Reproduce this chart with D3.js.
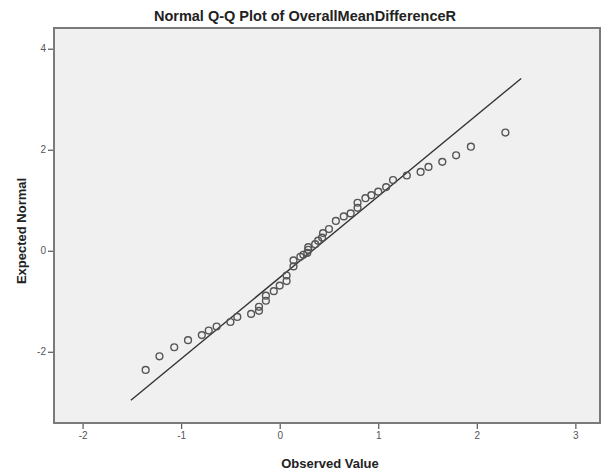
<!DOCTYPE html>
<html>
<head>
<meta charset="utf-8">
<script src="https://cdn.jsdelivr.net/npm/d3@7/dist/d3.min.js"></script>
<style>
  html, body { margin: 0; padding: 0; background: #ffffff; }
  svg { display: block; font-family: "Liberation Sans", Arial, sans-serif; }
</style>
</head>
<body>
<svg id="chart" width="601" height="471"></svg>
<script>
// Observed values (x) and their expected normal quantiles (y)
const observed = [
  -1.36, -1.22, -1.07, -0.93, -0.79, -0.72, -0.64, -0.50, -0.43, -0.29,
  -0.21, -0.21, -0.14, -0.14, -0.06, 0.00, 0.07, 0.07, 0.14, 0.14,
  0.21, 0.24, 0.28, 0.29, 0.29, 0.36, 0.39, 0.43, 0.44, 0.50,
  0.57, 0.65, 0.72, 0.79, 0.79, 0.87, 0.93, 1.00, 1.08, 1.15,
  1.29, 1.43, 1.51, 1.65, 1.79, 1.94, 2.29
];
const expected = [
  -2.36, -2.09, -1.91, -1.77, -1.67, -1.58, -1.50, -1.41, -1.31, -1.25,
  -1.19, -1.11, -0.99, -0.89, -0.80, -0.69, -0.60, -0.49, -0.31, -0.19,
  -0.12, -0.08, -0.04, 0.02, 0.07, 0.13, 0.20, 0.26, 0.35, 0.43,
  0.59, 0.68, 0.74, 0.85, 0.95, 1.04, 1.10, 1.17, 1.26, 1.40,
  1.49, 1.56, 1.66, 1.76, 1.89, 2.06, 2.34
];
// Reference line end points (observed, expected)
const refLineX = [-1.51, 2.45];
const refLineY = [-2.96, 3.41];

const xTicks = [-2, -1, 0, 1, 2, 3];
const yTicks = [-2, 0, 2, 4];

const titleText = "Normal Q-Q Plot of OverallMeanDifferenceR";
const xLabel = "Observed Value";
const yLabel = "Expected Normal";

const svg = d3.select("#chart");
const plotLeft = 54, plotRight = 600, plotTop = 28, plotBottom = 423;

const x = d3.scaleLinear().domain([-2.29, 3.25]).range([plotLeft, plotRight]);
const y = d3.scaleLinear().domain([-3.41, 4.41]).range([plotBottom, plotTop]);

// integer tick labels with a plain hyphen for negatives
const tickFmt = d => String(d);

// plot background and frame
svg.append("rect")
  .attr("x", plotLeft).attr("y", plotTop)
  .attr("width", plotRight - plotLeft).attr("height", plotBottom - plotTop)
  .attr("fill", "#f0f0f0")
  .attr("stroke", "#7a7a7a").attr("stroke-width", 2);

// axes
const xAxis = d3.axisBottom(x).tickValues(xTicks).tickSize(5).tickPadding(3).tickFormat(tickFmt);
const gx = svg.append("g").attr("transform", `translate(0,${plotBottom + 1})`).call(xAxis);
gx.select(".domain").remove();
gx.selectAll("line").attr("stroke", "#555").attr("stroke-width", 1.2);
gx.selectAll("text").attr("fill", "#555").attr("font-size", 10).attr("font-family", "Liberation Sans, Arial, sans-serif");

const yAxis = d3.axisLeft(y).tickValues(yTicks).tickSize(5).tickPadding(2).tickFormat(tickFmt);
const gy = svg.append("g").attr("transform", `translate(${plotLeft - 1},0)`).call(yAxis);
gy.select(".domain").remove();
gy.selectAll("line").attr("stroke", "#555").attr("stroke-width", 1.2);
gy.selectAll("text").attr("fill", "#555").attr("font-size", 10).attr("font-family", "Liberation Sans, Arial, sans-serif");

// reference line
svg.append("line")
  .attr("x1", x(refLineX[0])).attr("y1", y(refLineY[0]))
  .attr("x2", x(refLineX[1])).attr("y2", y(refLineY[1]))
  .attr("stroke", "#333").attr("stroke-width", 1.4);

// points
svg.append("g").selectAll("circle")
  .data(observed.map((v, i) => [v, expected[i]]))
  .join("circle")
  .attr("cx", d => x(d[0])).attr("cy", d => y(d[1]))
  .attr("r", 3.4)
  .attr("fill", "none")
  .attr("stroke", "#555").attr("stroke-width", 1.4);

// titles
svg.append("text")
  .attr("x", 305).attr("y", 21)
  .attr("text-anchor", "middle")
  .attr("font-size", 14.5).attr("font-weight", "bold").attr("fill", "#222")
  .text(titleText);

svg.append("text")
  .attr("x", 330).attr("y", 468)
  .attr("text-anchor", "middle")
  .attr("font-size", 13).attr("font-weight", "bold").attr("fill", "#222")
  .text(xLabel);

svg.append("text")
  .attr("transform", `translate(26,231) rotate(-90)`)
  .attr("text-anchor", "middle")
  .attr("font-size", 13).attr("font-weight", "bold").attr("fill", "#222")
  .text(yLabel);
</script>
</body>
</html>
